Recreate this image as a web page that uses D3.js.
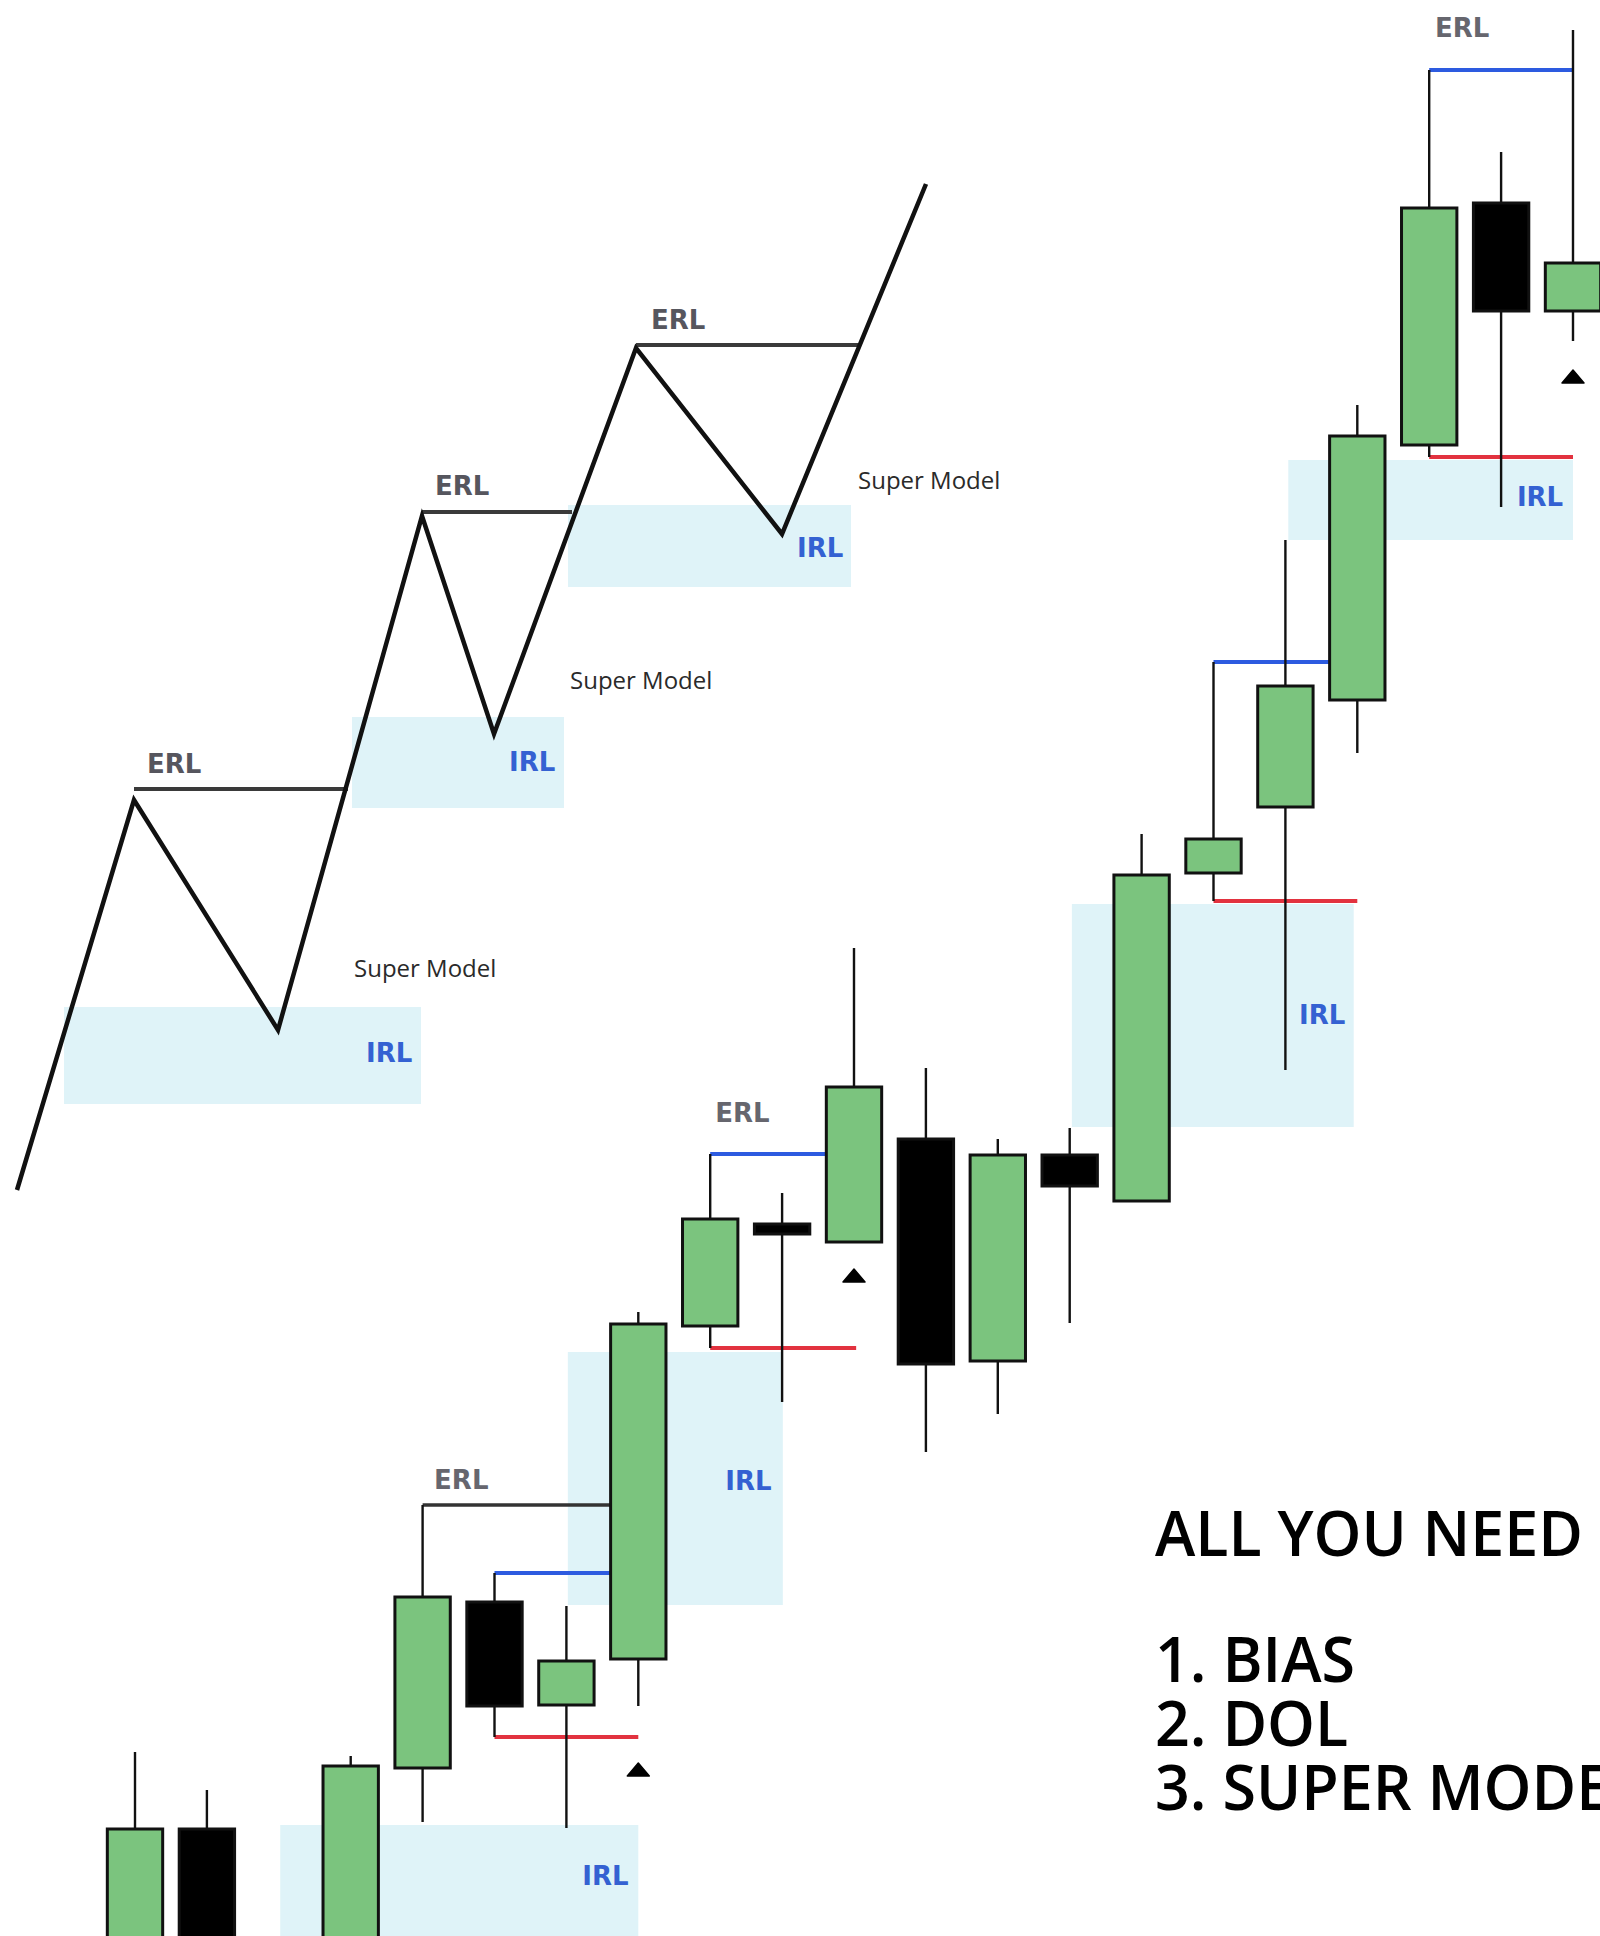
<!DOCTYPE html>
<html>
<head>
<meta charset="utf-8">
<script src="https://cdn.jsdelivr.net/npm/d3@7"></script>
<style>
html,body{margin:0;padding:0;background:#fff;}
svg{display:block;}
</style>
</head>
<body>
<div id="chart"></div>
<script>
// ---------------- DATA ----------------
// Candles (index = bar slot, 2 is an empty slot)
const candleIndex = [0, 1, 3, 4, 5, 6, 7, 8, 9, 10, 11, 12, 13, 14, 15, 16, 17, 18, 19, 20];
const opens  = [-2.4, 10.7, -3.0, 16.8, 33.4, 23.1, 27.7, 61.0, 71.2, 69.4, 79.7, 57.5, 78.1, 73.5, 106.3, 112.9, 123.6, 149.1, 173.3, 162.5];
const highs  = [18.4, 14.6, 18.0, 43.1, 36.3, 33.0, 62.4, 78.2, 74.3, 98.8, 86.8, 79.7, 80.8, 110.2, 127.4, 139.6, 153.1, 186.6, 178.4, 190.6];
const lows   = [-4.4, -5.0, -5.0, 11.4, 19.9, 10.8, 23.0, 58.8, 53.4, 69.4, 48.4, 52.2, 61.3, 73.5, 103.5, 86.6, 118.3, 147.9, 142.9, 159.5];
const closes = [10.7, -3.0, 17.0, 33.9, 23.0, 27.5, 61.2, 71.7, 70.2, 84.9, 57.2, 78.1, 75.0, 106.1, 109.7, 125.0, 150.0, 172.8, 162.5, 167.3];

// Liquidity levels on the candle chart: [startIndex, endIndex, price]
const erlLevels  = [[4, 6.62, 43.1]];
const blueLevels = [[5, 6.62, 36.3], [8, 9.61, 78.2], [15, 16.63, 127.4], [18, 20, 186.6]];
const redLevels  = [[5, 7.0, 19.9], [8, 10.03, 58.8], [15, 17.0, 103.5], [18, 20, 147.9]];
// IRL zones on candle chart: [x0, x1, yTop, yBottom]
const candleZones = [[2.02, 7.0, 11.1, -2], [6.02, 9.01, 58.4, 33.1], [13.03, 16.95, 103.2, 80.9], [16.04, 20.0, 147.6, 139.6]];
// Entry markers: [index, price]
const markers = [[7, 16.6], [10, 66.0], [20, 155.9]];
// Candle-chart labels: [text, index, price]
const candleErlLabels = [["ERL", 4.16, 44.7], ["ERL", 8.07, 81.4], ["ERL", 18.08, 189.9]];
const candleIrlLabels = [["IRL", 6.22, 5.1], ["IRL", 8.21, 44.6], ["IRL", 16.19, 91.2], ["IRL", 19.22, 143.0]];

// Schematic zig-zag (x in schematic units, price)
const zigX = [1.7, 13.4, 27.8, 42.2, 49.4, 63.6, 78.2, 92.6];
const zigY = [74.6, 113.6, 90.6, 142.0, 120.2, 158.8, 140.2, 175.2];
// Schematic ERL lines: [x0, x1, price]
const zigErl = [[13.4, 34.8, 114.7], [42.2, 57.2, 142.4], [63.6, 85.8, 159.1]];
// Schematic IRL zones: [x0, x1, yTop, yBottom]
const zigZones = [[6.4, 42.1, 92.9, 83.2], [35.2, 56.4, 121.9, 112.8], [56.8, 85.1, 143.1, 134.9]];
const zigErlLabels = [["ERL", 14.7, 116.3], ["ERL", 43.5, 144.1], ["ERL", 65.1, 160.7]];
const zigIrlLabels = [["IRL", 36.6, 87.4], ["IRL", 50.9, 116.5], ["IRL", 79.7, 137.9]];
const zigModelLabels = [["Super Model", 35.4, 95.9], ["Super Model", 57.0, 124.7], ["Super Model", 85.8, 144.7]];

// Headline text
const headline = "ALL YOU NEED";
const listItems = ["1. BIAS", "2. DOL", "3. SUPER MODEL"];

// ---------------- DRAW ----------------
const W = 1600, H = 1936;
const svg = d3.select("#chart").append("svg").attr("width", W).attr("height", H)
  .style("overflow", "hidden");

const y = d3.scaleLinear().domain([0, 193.6]).range([H, 0]);
const xc = d3.scaleLinear().domain([0, 20]).range([135, 1573]);
const xs = d3.scaleLinear().domain([0, 160]).range([0, W]);
const bodyW = (xc(1) - xc(0)) * 0.77;

const GREEN = "#7bc47e", ZONE = "#dff3f8", BLUE = "#2d5be0", RED = "#e2323f";

// zones
const zoneG = svg.append("g");
zoneG.selectAll("rect.cz").data(candleZones).join("rect")
  .attr("x", d => xc(d[0])).attr("width", d => xc(d[1]) - xc(d[0]))
  .attr("y", d => y(d[2])).attr("height", d => y(d[3]) - y(d[2]))
  .attr("fill", ZONE);
zoneG.selectAll("rect.zz").data(zigZones).join("rect")
  .attr("x", d => xs(d[0])).attr("width", d => xs(d[1]) - xs(d[0]))
  .attr("y", d => y(d[2])).attr("height", d => y(d[3]) - y(d[2]))
  .attr("fill", ZONE);

// schematic
svg.append("g").selectAll("line").data(zigErl).join("line")
  .attr("x1", d => xs(d[0])).attr("x2", d => xs(d[1]))
  .attr("y1", d => y(d[2])).attr("y2", d => y(d[2]))
  .attr("stroke", "#3a3a3a").attr("stroke-width", 4);
const zig = zigX.map((v, i) => [v, zigY[i]]);
svg.append("path").datum(zig)
  .attr("d", d3.line().x(d => xs(d[0])).y(d => y(d[1])))
  .attr("fill", "none").attr("stroke", "#111").attr("stroke-width", 4.5)
  .attr("stroke-linejoin", "miter");

// candle levels
const lvl = svg.append("g");
lvl.selectAll("line.erl").data(erlLevels).join("line")
  .attr("x1", d => xc(d[0])).attr("x2", d => xc(d[1]))
  .attr("y1", d => y(d[2])).attr("y2", d => y(d[2]))
  .attr("stroke", "#333").attr("stroke-width", 3.5);
lvl.selectAll("line.blue").data(blueLevels).join("line")
  .attr("x1", d => xc(d[0])).attr("x2", d => xc(d[1]))
  .attr("y1", d => y(d[2])).attr("y2", d => y(d[2]))
  .attr("stroke", BLUE).attr("stroke-width", 4);
lvl.selectAll("line.red").data(redLevels).join("line")
  .attr("x1", d => xc(d[0])).attr("x2", d => xc(d[1]))
  .attr("y1", d => y(d[2])).attr("y2", d => y(d[2]))
  .attr("stroke", RED).attr("stroke-width", 4);

// candles
const candles = candleIndex.map((t, i) => ({t, o: opens[i], h: highs[i], l: lows[i], c: closes[i]}));
const cg = svg.append("g");
cg.selectAll("line").data(candles).join("line")
  .attr("x1", d => xc(d.t)).attr("x2", d => xc(d.t))
  .attr("y1", d => y(d.h)).attr("y2", d => y(d.l))
  .attr("stroke", "#111").attr("stroke-width", 2.4);
cg.selectAll("rect").data(candles).join("rect")
  .attr("x", d => xc(d.t) - bodyW / 2).attr("width", bodyW)
  .attr("y", d => y(Math.max(d.o, d.c)))
  .attr("height", d => Math.max(6, Math.abs(y(d.o) - y(d.c))))
  .attr("fill", d => d.c >= d.o ? GREEN : "#000")
  .attr("stroke", "#111").attr("stroke-width", 3);

// markers
svg.append("g").selectAll("path").data(markers).join("path")
  .attr("d", d => {
    const cx = xc(d[0]), cy = y(d[1]);
    return `M${cx - 11},${cy + 6}L${cx},${cy - 7}L${cx + 11},${cy + 6}Z`;
  })
  .attr("fill", "#000").attr("stroke", "#000").attr("stroke-width", 1.5).attr("stroke-linejoin", "round");

// labels
const lab = svg.append("g").attr("font-family", "DejaVu Sans, Verdana, sans-serif").attr("font-weight", "bold").attr("font-size", 26);
lab.selectAll("text.ce").data(candleErlLabels).join("text")
  .attr("x", d => xc(d[1])).attr("y", d => y(d[2])).attr("fill", "#66666e").text(d => d[0]);
lab.selectAll("text.ci").data(candleIrlLabels).join("text")
  .attr("x", d => xc(d[1])).attr("y", d => y(d[2])).attr("fill", "#3461d2").text(d => d[0]);
lab.selectAll("text.ze").data(zigErlLabels).join("text")
  .attr("x", d => xs(d[1])).attr("y", d => y(d[2])).attr("fill", "#56565e").text(d => d[0]);
lab.selectAll("text.zi").data(zigIrlLabels).join("text")
  .attr("x", d => xs(d[1])).attr("y", d => y(d[2])).attr("fill", "#3461d2").text(d => d[0]);
svg.append("g").attr("font-family", "Open Sans, sans-serif").attr("font-size", 24).attr("font-weight", 500).attr("fill", "#2a2a2a")
  .selectAll("text").data(zigModelLabels).join("text")
  .attr("x", d => xs(d[1])).attr("y", d => y(d[2])).text(d => d[0]);

// headline
const tg = svg.append("g").attr("font-family", "Open Sans, sans-serif").attr("font-size", 63)
  .attr("font-weight", 600).attr("fill", "#000");
const head = tg.append("text").attr("x", 1155).attr("y", 1556).text(headline);
const items = tg.selectAll("text.li").data(listItems).join("text").attr("class", "li")
  .attr("x", 1155).attr("y", (d, i) => 1682 + i * 64).text(d => d);
// keep the headline width as in the reference (about 428px) and compress the list equally
const ratio = 428 / head.node().getComputedTextLength();
head.attr("textLength", 428).attr("lengthAdjust", "spacingAndGlyphs");
items.each(function () {
  const w = this.getComputedTextLength();
  d3.select(this).attr("textLength", w * ratio).attr("lengthAdjust", "spacingAndGlyphs");
});
</script>
</body>
</html>
